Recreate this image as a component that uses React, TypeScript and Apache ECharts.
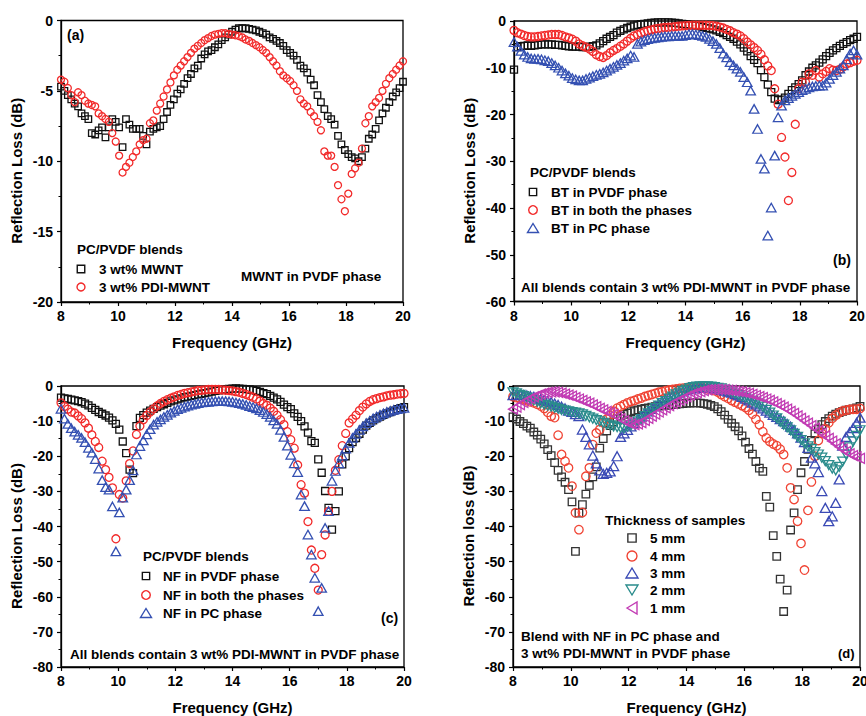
import React, { useEffect, useRef } from "react";
import * as echarts from "echarts";

// Frequency grid (GHz) shared by every series
const FREQ = [
  8, 8.12, 8.24, 8.36, 8.48, 8.6, 8.72, 8.84, 8.96, 9.08,
  9.2, 9.32, 9.44, 9.56, 9.68, 9.8, 9.92, 10.04, 10.16, 10.28,
  10.4, 10.52, 10.64, 10.76, 10.88, 11, 11.12, 11.24, 11.36, 11.48,
  11.6, 11.72, 11.84, 11.96, 12.08, 12.2, 12.32, 12.44, 12.56, 12.68,
  12.8, 12.92, 13.04, 13.16, 13.28, 13.4, 13.52, 13.64, 13.76, 13.88,
  14, 14.12, 14.24, 14.36, 14.48, 14.6, 14.72, 14.84, 14.96, 15.08,
  15.2, 15.32, 15.44, 15.56, 15.68, 15.8, 15.92, 16.04, 16.16, 16.28,
  16.4, 16.52, 16.64, 16.76, 16.88, 17, 17.12, 17.24, 17.36, 17.48,
  17.6, 17.72, 17.84, 17.96, 18.08, 18.2, 18.32, 18.44, 18.56, 18.68,
  18.8, 18.92, 19.04, 19.16, 19.28, 19.4, 19.52, 19.64, 19.76, 19.88,
  20,
];

// (a) MWNT in PVDF phase
const A_MWNT = [
  -4.7, -5.0, -5.3, -5.6, -5.9, -6.1, -6.6, -6.8, -7.0, -8.0,
  -8.1, -7.8, -7.6, -8.3, -7.6, -7.0, -7.2, -7.6, -9.0, -7.0,
  -7.4, -7.7, -7.7, -7.7, -8.2, -8.8, -7.9, -7.7, -7.6, -7.5,
  -7.0, -6.5, -6.0, -5.6, -5.2, -4.9, -4.5, -4.1, -3.8, -3.4,
  -3.2, -2.7, -2.4, -2.2, -2.1, -1.9, -1.7, -1.4, -1.2, -1.0,
  -0.8, -0.65, -0.55, -0.55, -0.55, -0.6, -0.65, -0.7, -0.8, -0.9,
  -1.0, -1.2, -1.3, -1.45, -1.6, -1.8, -2.1, -2.3, -2.5, -2.8,
  -3.2, -3.4, -3.7, -4.2, -4.6, -5.3, -5.8, -6.3, -6.8, -7.0,
  -7.4, -8.2, -8.8, -9.2, -9.5, -9.7, -9.8, -10.0, -9.7, -9.1,
  -8.4, -8.1, -7.7, -7.1, -6.6, -6.2, -5.8, -5.4, -5.1, -4.8,
  -4.35,
];
const A_PDI = [
  -4.2, -4.35, -4.8, -5.3, -5.8, -5.1, -5.3, -5.7, -5.9, -6.0,
  -6.1, -6.6, -6.8, -7.0, -7.2, -8.0, -8.6, -9.6, -10.8, -10.4,
  -10.1, -9.7, -9.3, -8.8, -8.5, -8.4, -7.3, -7.1, -6.4, -5.9,
  -5.4, -4.9, -4.4, -3.9, -3.5, -3.2, -2.9, -2.6, -2.3, -2.0,
  -1.8, -1.6, -1.4, -1.25, -1.1, -1.0, -0.95, -0.9, -0.9, -0.95,
  -1.0, -1.05, -1.1, -1.2, -1.35, -1.45, -1.6, -1.75, -1.9, -2.1,
  -2.3, -2.6, -2.9, -3.2, -3.6, -3.9, -4.1, -4.3, -4.6, -5.0,
  -5.6, -5.9, -6.1, -6.5, -6.8, -7.2, -7.8, -9.3, -9.6, -9.6,
  -10.4, -11.7, -12.7, -13.55, -12.3, -10.9, -10.5, -10.1, -9.1, -7.3,
  -6.8, -6.1, -5.8, -5.5, -5.0, -4.5, -4.1, -3.8, -3.5, -3.2,
  -2.9,
];

// (b) BT blends
const B_PVDF = [
  -10.4, -5.6, -5.4, -5.3, -5.2, -5.3, -5.2, -5.1, -5.0, -5.0,
  -5.0, -5.0, -5.1, -5.1, -5.2, -5.3, -5.4, -5.5, -5.5, -5.5,
  -5.6, -5.6, -5.5, -5.4, -5.2, -4.8, -4.3, -3.8, -3.4, -3.0,
  -2.5, -2.1, -1.8, -1.5, -1.2, -1.0, -0.85, -0.7, -0.6, -0.5,
  -0.4, -0.35, -0.3, -0.3, -0.3, -0.3, -0.35, -0.4, -0.5, -0.6,
  -0.7, -0.8, -0.9, -1.0, -1.1, -1.3, -1.45, -1.6, -1.8, -2.0,
  -2.3, -2.6, -3.0, -3.4, -3.8, -4.4, -5.0, -5.7, -6.5, -7.5,
  -8.3, -9.0, -10.5, -12.0, -13.6, -15.2, -16.6, -16.9, -16.8, -16.4,
  -15.6, -14.8, -14.2, -13.5, -12.7, -11.6, -10.8, -10.0, -9.5, -8.9,
  -8.2, -7.5, -6.8, -6.3, -5.8, -5.3, -4.9, -4.5, -4.1, -3.8,
  -3.4,
];
const B_BOTH = [
  -2.0, -2.5, -2.8, -3.1, -3.3, -3.4, -3.4, -3.3, -3.2, -3.1,
  -3.0, -2.9, -2.9, -2.9, -3.1, -3.4, -3.6, -3.9, -4.3, -4.9,
  -5.3, -5.6, -6.0, -6.5, -7.2, -7.6, -7.8, -7.4, -6.8, -6.3,
  -5.9, -5.4, -4.9, -4.3, -3.7, -3.2, -2.9, -2.6, -2.3, -2.1,
  -1.9, -1.7, -1.6, -1.5, -1.4, -1.35, -1.3, -1.2, -1.1, -1.05,
  -1.0, -0.95, -0.9, -0.9, -0.9, -0.9, -0.9, -0.95, -1.0, -1.1,
  -1.3, -1.5, -1.8, -2.1, -2.5, -2.8, -3.2, -3.8, -4.5, -5.1,
  -5.7, -6.3, -7.1, -8.3, -9.6, -10.6, -14.5, -17.8, -24.9, -29.1,
  -38.4, -32.4, -22.1, -14.5, -13.1, -13.1, -11.3, -11.6, -10.6, -12.0,
  -11.3, -10.8, -10.2, -10.5, -10.6, -10.3, -9.8, -9.2, -8.9, -8.6,
  -8.4,
];
const B_PC = [
  -4.5, -5.5, -6.4, -7.2, -7.7, -8.0, -8.1, -8.1, -8.2, -8.4,
  -8.6, -9.0, -9.5, -10.0, -10.6, -11.2, -11.7, -12.2, -12.5, -12.7,
  -12.7, -12.4, -12.1, -11.8, -11.5, -11.3, -11.0, -10.6, -10.2, -9.8,
  -9.4, -9.0, -8.5, -8.0, -7.4, -7.7, -4.9, -4.4, -4.1, -3.9,
  -3.7, -3.6, -3.5, -3.4, -3.3, -3.3, -3.2, -3.2, -3.2, -3.2,
  -3.0, -2.8, -2.8, -2.9, -3.0, -3.2, -3.4, -3.8, -4.3, -4.9,
  -5.8, -7.0, -7.8, -8.8, -9.5, -10.2, -10.9, -12.0, -13.1, -14.9,
  -18.8, -23.1, -29.5, -31.6, -45.9, -39.9, -28.8, -20.6, -18.1, -17.0,
  -16.5, -16.0, -15.6, -15.2, -14.8, -14.5, -14.2, -14.0, -13.9, -13.8,
  -13.8, -13.2, -12.4, -11.6, -10.9, -10.2, -9.5, -8.2, -7.0, -6.3,
  -7.2,
];

// (c) NF blends
const C_PVDF = [
  -3.3, -3.5, -3.7, -3.9, -4.1, -4.3, -4.6, -5.0, -5.5, -6.2,
  -6.8, -7.4, -7.9, -8.4, -9.0, -9.8, -10.8, -12.4, -15.8, -19.1,
  -23.8, -24.8, -11.4, -9.1, -8.3, -7.6, -7.0, -6.5, -6.0, -5.6,
  -5.2, -4.8, -4.4, -4.1, -3.8, -3.5, -3.2, -3.0, -2.8, -2.6,
  -2.4, -2.2, -2.0, -1.8, -1.6, -1.4, -1.25, -1.1, -1.0, -0.85,
  -0.75, -0.7, -0.75, -0.8, -0.9, -1.0, -1.2, -1.4, -1.7, -2.0,
  -2.3, -2.8, -3.3, -3.8, -4.5, -5.3, -6.0, -6.6, -7.8, -8.8,
  -10.0, -11.5, -13.3, -15.7, -16.2, -20.9, -24.7, -29.9, -34.7, -40.9,
  -35.6, -30.0, -22.3, -20.0, -17.7, -16.0, -14.8, -13.6, -12.4, -11.3,
  -10.5, -9.8, -9.2, -8.7, -8.2, -7.8, -7.4, -7.0, -6.6, -6.3,
  -6.0,
];
const C_BOTH = [
  -4.8, -5.8, -6.6, -7.4, -7.7, -8.5, -9.3, -10.5, -12.0, -13.9,
  -15.8, -17.5, -21.4, -23.8, -26.0, -29.0, -43.5, -30.9, -31.9, -27.0,
  -22.1, -18.5, -13.8, -11.4, -9.6, -8.4, -7.4, -6.5, -5.7, -5.0,
  -4.4, -3.9, -3.5, -3.1, -2.7, -2.4, -2.1, -1.9, -1.7, -1.5,
  -1.3, -1.2, -1.1, -1.0, -1.0, -1.0, -1.0, -1.1, -1.2, -1.3,
  -1.4, -1.6, -1.8, -2.1, -2.4, -2.8, -3.2, -3.7, -4.3, -5.0,
  -5.5, -6.3, -7.2, -8.3, -9.6, -11.0, -13.0, -15.3, -17.7, -22.5,
  -28.1, -30.5, -38.6, -46.7, -51.9, -58.1, -48.0, -42.4, -35.7, -30.0,
  -24.0, -21.0, -17.0, -13.5, -10.5, -9.4, -8.3, -7.0, -6.0, -5.1,
  -4.4, -3.9, -3.6, -3.3, -3.1, -2.8, -2.6, -2.5, -2.3, -2.2,
  -2.1,
];
const C_PC = [
  -6.5, -9.3, -10.8, -12.0, -13.0, -13.9, -14.8, -16.0, -17.6, -19.0,
  -20.8, -23.5, -26.8, -28.8, -29.5, -34.3, -47.1, -36.0, -31.8, -29.5,
  -26.8, -24.0, -19.5, -17.1, -15.5, -13.8, -12.3, -11.0, -10.2, -9.5,
  -8.8, -8.2, -7.6, -7.1, -6.6, -6.2, -5.9, -5.6, -5.3, -5.1,
  -4.9, -4.7, -4.6, -4.5, -4.4, -4.3, -4.3, -4.3, -4.3, -4.4,
  -4.5, -4.7, -4.9, -5.1, -5.4, -5.7, -6.0, -6.4, -6.9, -7.4,
  -8.0, -8.8, -9.8, -10.8, -12.5, -14.5, -17.0, -19.6, -22.0, -24.5,
  -30.9, -34.2, -42.3, -48.0, -54.6, -64.1, -57.5, -40.4, -35.6, -27.0,
  -24.2, -22.0, -19.8, -17.8, -16.2, -14.8, -13.6, -12.5, -11.5, -10.6,
  -9.9, -9.2, -8.7, -8.2, -7.8, -7.4, -7.1, -6.8, -6.6, -6.4,
  -6.2,
];

// (d) thickness series
const D_5MM = [
  -8.8, -9.4, -10.1, -10.7, -11.4, -12.0, -13.1, -14.0, -15.1, -16.5,
  -18.1, -19.8, -21.8, -24.0, -25.9, -27.4, -29.5, -33.0, -47.1, -36.2,
  -33.8, -30.8, -28.3, -25.9, -23.0, -17.7, -15.0, -12.8, -11.3, -10.2,
  -9.3, -8.6, -8.1, -7.7, -7.3, -7.0, -6.8, -6.6, -6.4, -6.2,
  -6.0, -5.9, -5.7, -5.6, -5.5, -5.4, -5.3, -5.2, -5.1, -5.0,
  -4.9, -4.85, -4.8, -4.8, -4.85, -5.0, -5.2, -5.5, -5.9, -6.5,
  -7.3, -8.3, -9.5, -10.6, -11.6, -12.8, -14.2, -16.0, -17.8, -19.4,
  -21.5, -23.4, -24.3, -31.4, -34.5, -42.6, -48.5, -55.0, -64.2, -58.1,
  -41.0, -36.1, -29.5, -24.7, -21.5, -18.0, -15.5, -13.6, -12.2, -11.0,
  -10.1, -9.3, -8.6, -8.0, -7.6, -7.2, -6.9, -6.7, -6.5, -6.2,
  -5.8,
];
const D_4MM = [
  -3.0, -3.3, -3.6, -3.9, -4.2, -4.5, -4.8, -5.2, -5.7, -6.4,
  -7.5, -8.6, -9.0, -14.0, -19.5, -21.4, -23.3, -28.5, -36.1, -40.9,
  -36.0, -25.7, -23.3, -16.7, -13.4, -12.4, -10.5, -9.4, -8.4, -7.2,
  -6.3, -5.8, -5.3, -4.8, -4.4, -4.1, -3.7, -3.4, -3.0, -2.7,
  -2.4, -2.1, -1.8, -1.6, -1.35, -1.15, -1.0, -0.85, -0.7, -0.6,
  -0.5, -0.45, -0.4, -0.45, -0.5, -0.6, -0.8, -1.0, -1.3, -1.7,
  -2.4, -3.0, -3.5, -4.1, -4.6, -5.1, -5.6, -6.1, -6.9, -8.0,
  -9.5, -11.0, -13.0, -14.8, -15.8, -16.5, -17.0, -18.0, -19.5, -23.3,
  -29.0, -32.3, -38.5, -44.8, -52.4, -35.4, -27.3, -20.0, -15.5, -13.5,
  -12.2, -10.5, -9.2, -8.3, -7.6, -7.1, -6.9, -6.7, -6.6, -6.6,
  -6.4,
];
const D_3MM = [
  -2.6, -2.5, -2.5, -2.6, -2.7, -2.9, -3.1, -3.4, -3.7, -4.0,
  -4.3, -4.6, -5.0, -5.4, -5.9, -6.4, -7.0, -7.4, -8.0, -8.6,
  -12.4, -14.5, -16.6, -19.8, -22.0, -24.0, -25.0, -24.7, -24.3, -22.8,
  -20.0, -14.5, -13.5, -12.5, -11.5, -10.5, -9.5, -8.7, -7.9, -7.2,
  -6.5, -5.8, -5.1, -4.5, -3.9, -3.3, -2.8, -2.3, -1.9, -1.5,
  -1.2, -0.9, -0.7, -0.5, -0.4, -0.4, -0.4, -0.5, -0.6, -0.8,
  -1.0, -1.3, -1.6, -1.9, -2.3, -2.7, -3.1, -3.6, -4.1, -4.7,
  -5.2, -5.8, -6.4, -7.0, -7.6, -8.2, -8.8, -9.4, -10.0, -10.8,
  -11.6, -12.5, -13.5, -14.7, -16.0, -17.6, -20.4, -22.0, -24.5, -29.9,
  -34.7, -38.5, -37.1, -33.3, -26.6, -17.0, -14.5, -13.2, -12.0, -10.5,
  -9.0,
];
const D_2MM = [
  -1.8, -2.1, -2.5, -2.9, -3.3, -3.7, -4.1, -4.5, -4.9, -5.3,
  -5.6, -5.9, -6.2, -6.5, -6.8, -7.0, -7.2, -7.4, -7.6, -7.8,
  -8.1, -8.5, -8.9, -9.3, -9.7, -10.1, -10.5, -10.9, -11.2, -11.5,
  -11.7, -11.9, -12.0, -11.6, -11.2, -10.7, -10.1, -9.4, -8.6, -7.8,
  -7.1, -6.3, -5.6, -4.9, -4.3, -3.6, -3.0, -2.4, -1.9, -1.4,
  -1.0, -0.6, -0.35, -0.2, -0.1, -0.1, -0.1, -0.2, -0.3, -0.5,
  -0.7, -1.0, -1.3, -1.8, -2.2, -2.6, -3.0, -3.4, -3.9, -4.3,
  -4.8, -5.3, -5.9, -6.8, -7.6, -8.4, -9.2, -10.2, -11.0, -11.8,
  -12.6, -13.6, -14.5, -15.4, -16.3, -17.2, -18.0, -18.8, -19.5, -20.4,
  -21.4, -22.5, -23.5, -24.0, -23.0, -21.5, -19.5, -17.5, -15.8, -14.2,
  -12.6,
];
const D_1MM = [
  -6.6, -6.0, -5.3, -4.7, -4.1, -3.5, -3.1, -2.7, -2.3, -2.0,
  -1.8, -1.7, -1.7, -1.8, -2.0, -2.3, -2.6, -2.9, -3.3, -3.7,
  -4.1, -4.5, -4.9, -5.4, -5.9, -6.4, -6.8, -7.2, -7.6, -8.1,
  -8.7, -9.3, -9.9, -10.4, -10.8, -11.0, -10.8, -10.4, -9.8, -9.2,
  -8.6, -8.0, -7.4, -6.8, -6.2, -5.6, -5.0, -4.5, -4.0, -3.5,
  -3.0, -2.6, -2.2, -1.9, -1.6, -1.3, -1.1, -1.0, -0.95, -0.95,
  -1.0, -1.05, -1.15, -1.25, -1.4, -1.55, -1.7, -1.9, -2.1, -2.4,
  -2.7, -3.0, -3.3, -3.7, -4.1, -4.5, -5.0, -5.5, -6.0, -6.6,
  -7.2, -7.8, -8.5, -9.2, -9.9, -10.6, -11.3, -12.0, -12.7, -13.4,
  -14.2, -14.9, -15.7, -16.5, -17.3, -18.0, -18.7, -19.3, -19.8, -20.2,
  -20.6,
];

const Y_MIN = [-20, -60, -80, -80];
const Y_STEP = [5, 10, 10, 10];
const Y_NAMES = [
  "Reflection Loss (dB)",
  "Reflection Loss (dB)",
  "Reflection Loss (dB)",
  "Reflection loss (dB)",
];

const FONT = '"Liberation Sans", Arial, Helvetica, sans-serif';
const BLACK = "#111111";
const RED = "#f22a2a";
const BLUE = "#3450b2";
const D_BLACK = "#333333";
const D_RED = "#f04434";
const D_BLUE = "#3a4ab5";
const D_TEAL = "#2a8c8c";
const D_MAG = "#c23cb4";

const GRIDS = [
  { left: 61, top: 20.5, width: 342, height: 281.5 },
  { left: 514, top: 21, width: 343, height: 280.5 },
  { left: 61, top: 386, width: 343, height: 281 },
  { left: 513, top: 386, width: 347, height: 281 },
];

function scatter(name: string, g: number, vals: number[], symbol: string, size: any, color: string, rotate = 0) {
  return {
    type: "scatter",
    name,
    xAxisIndex: g,
    yAxisIndex: g,
    data: FREQ.map((f, i) => [f, vals[i]]),
    symbol,
    symbolSize: size,
    symbolRotate: rotate,
    silent: true,
    itemStyle: { color: "rgba(255,255,255,0)", borderColor: color, borderWidth: 1.3, opacity: 1 },
  };
}

function txt(t: string, x: number, y: number, size = 13.5) {
  return {
    type: "text",
    x,
    y,
    silent: true,
    style: { text: t, font: `bold ${size}px ${FONT}`, fill: "#000", align: "left", verticalAlign: "middle" },
  };
}
const stroke = (c: string) => ({ fill: "none", stroke: c, lineWidth: 1.4 });
function sq(cx: number, cy: number, s: number, c: string) {
  return { type: "rect", silent: true, shape: { x: cx - s / 2, y: cy - s / 2, width: s, height: s }, style: stroke(c) };
}
function ci(cx: number, cy: number, r: number, c: string) {
  return { type: "circle", silent: true, shape: { cx, cy, r }, style: stroke(c) };
}
function tri(cx: number, cy: number, w: number, h: number, c: string, dir: string) {
  let pts;
  if (dir === "up") pts = [[cx, cy - h / 2], [cx + w / 2, cy + h / 2], [cx - w / 2, cy + h / 2]];
  else if (dir === "down") pts = [[cx - w / 2, cy - h / 2], [cx + w / 2, cy - h / 2], [cx, cy + h / 2]];
  else pts = [[cx - w / 2, cy], [cx + w / 2, cy - h / 2], [cx + w / 2, cy + h / 2]];
  return { type: "polygon", silent: true, shape: { points: pts }, style: stroke(c) };
}

function buildOption() {
  const grid = GRIDS.map((g) => ({
    ...g,
    show: true,
    borderColor: "#000",
    borderWidth: 1.3,
    backgroundColor: "rgba(0,0,0,0)",
    containLabel: false,
    outerBoundsMode: "none",
  }));
  const labelStyle = { fontFamily: FONT, fontSize: 14, fontWeight: "bold", color: "#000" };
  const nameStyle = { fontFamily: FONT, fontSize: 15, fontWeight: "bold", color: "#000" };
  const xAxis = GRIDS.map((_, g) => ({
    type: "value",
    gridIndex: g,
    min: 8,
    max: 20,
    interval: 2,
    name: "Frequency (GHz)",
    nameLocation: "middle",
    nameGap: 33,
    nameTextStyle: nameStyle,
    axisLine: { show: true, onZero: false, lineStyle: { color: "#000", width: 1.3 } },
    axisTick: { show: true, inside: false, length: 4, lineStyle: { color: "#000", width: 1.2 } },
    minorTick: { show: true, splitNumber: 2, length: 2.5, lineStyle: { color: "#000", width: 1 } },
    splitLine: { show: false },
    axisLabel: { ...labelStyle, margin: 7 },
  }));
  const yAxis = GRIDS.map((_, g) => ({
    type: "value",
    gridIndex: g,
    min: Y_MIN[g],
    max: 0,
    interval: Y_STEP[g],
    name: Y_NAMES[g],
    nameLocation: "middle",
    nameGap: 37,
    nameTextStyle: { ...nameStyle, padding: [0, 19, 0, 0] },
    axisLine: { show: true, onZero: false, lineStyle: { color: "#000", width: 1.3 } },
    axisTick: { show: true, inside: false, length: 4, lineStyle: { color: "#000", width: 1.2 } },
    minorTick: { show: true, splitNumber: 2, length: 2.5, lineStyle: { color: "#000", width: 1 } },
    splitLine: { show: false },
    axisLabel: { ...labelStyle, margin: 8 },
  }));

  const series = [
    scatter("3 wt% MWNT", 0, A_MWNT, "rect", 6.5, BLACK),
    scatter("3 wt% PDI-MWNT", 0, A_PDI, "circle", 7, RED),
    scatter("BT in PVDF phase", 1, B_PVDF, "rect", 7, BLACK),
    scatter("BT in both the phases", 1, B_BOTH, "circle", 8, RED),
    scatter("BT in PC phase", 1, B_PC, "triangle", [9.5, 8.5], BLUE),
    scatter("NF in PVDF phase", 2, C_PVDF, "rect", 7, BLACK),
    scatter("NF in both the phases", 2, C_BOTH, "circle", 8, RED),
    scatter("NF in PC phase", 2, C_PC, "triangle", [9.5, 8.5], BLUE),
    scatter("5 mm", 3, D_5MM, "rect", 7.5, D_BLACK),
    scatter("4 mm", 3, D_4MM, "circle", 8.5, D_RED),
    scatter("3 mm", 3, D_3MM, "triangle", [10, 9], D_BLUE),
    scatter("2 mm", 3, D_2MM, "triangle", [10, 9], D_TEAL, 180),
    scatter("1 mm", 3, D_1MM, "triangle", [10, 9], D_MAG, 90),
  ];

  const graphic = [
    // panel a
    txt("(a)", 67, 35, 14),
    txt("PC/PVDF blends", 77, 249),
    sq(81, 269, 7.5, BLACK),
    txt("3 wt% MWNT", 99, 269),
    ci(81, 287, 4, RED),
    txt("3 wt% PDI-MWNT", 99, 287),
    txt("MWNT in PVDF phase", 241, 276),
    // panel b
    txt("PC/PVDF blends", 530, 172),
    sq(533, 192, 7.3, BLACK),
    txt("BT in PVDF phase", 551, 192),
    ci(533, 210, 4.3, RED),
    txt("BT in both the phases", 551, 210),
    tri(533, 228, 11, 9, BLUE, "up"),
    txt("BT in PC phase", 551, 228),
    txt("(b)", 833, 260, 14),
    txt("All blends contain 3 wt% PDI-MWNT in PVDF phase", 521, 287),
    // panel c
    txt("PC/PVDF blends", 143, 556),
    sq(146, 576, 7.3, BLACK),
    txt("NF in PVDF phase", 163, 576),
    ci(146, 595, 4.3, RED),
    txt("NF in both the phases", 163, 595),
    tri(146, 613, 11, 9, BLUE, "up"),
    txt("NF in PC phase", 163, 613),
    txt("(c)", 381, 618, 14),
    txt("All blends contain 3 wt% PDI-MWNT in PVDF phase", 70, 654),
    // panel d
    txt("Thickness of samples", 605, 520),
    sq(632, 538, 8.3, D_BLACK),
    txt("5 mm", 650, 538),
    ci(632, 556, 5, D_RED),
    txt("4 mm", 650, 556),
    tri(632, 573, 12, 10, D_BLUE, "up"),
    txt("3 mm", 650, 573),
    tri(632, 590, 12, 10, D_TEAL, "down"),
    txt("2 mm", 650, 590),
    tri(632, 608, 10, 12, D_MAG, "left"),
    txt("1 mm", 650, 608),
    txt("Blend with NF in PC phase and", 521, 636),
    txt("3 wt% PDI-MWNT in PVDF phase", 521, 653),
    txt("(d)", 838, 653, 13),
  ];

  return {
    animation: false,
    backgroundColor: "#ffffff",
    textStyle: { fontFamily: FONT },
    grid,
    xAxis,
    yAxis,
    series,
    graphic,
  };
}

export default function App() {
  const ref = useRef<HTMLDivElement>(null);
  useEffect(() => {
    if (!ref.current) return;
    const chart = echarts.init(ref.current, null, { renderer: "svg" });
    chart.setOption(buildOption() as any);
    return () => chart.dispose();
  }, []);
  return (
    <div
      ref={ref}
      style={{ position: "absolute", left: 0, top: 0, width: 866, height: 716, background: "#fff" }}
    />
  );
}
